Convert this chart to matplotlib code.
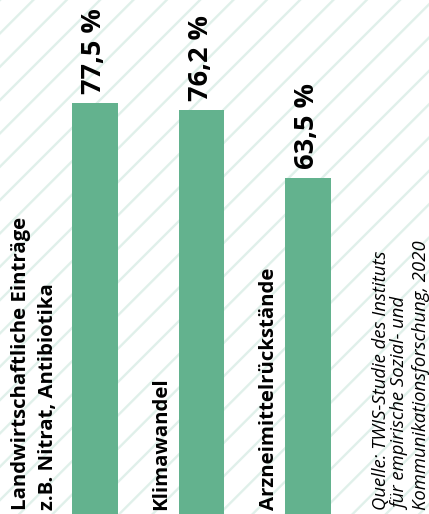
import matplotlib
matplotlib.use("Agg")
import matplotlib.pyplot as plt
import matplotlib.transforms as mtransforms
from matplotlib.patches import Rectangle

# data
categories = ["Landwirtschaftliche Einträge\nz.B. Nitrat, Antibiotika",
              "Klimawandel",
              "Arzneimittelrückstände"]
values = [77.5, 76.2, 63.5]
value_labels = ["77,5 %", "76,2 %", "63,5 %"]
source = ("Quelle: TWIS-Studie des Instituts\n"
          "für empirische Sozial- und\n"
          "Kommunikationsforschung, 2020")

bar_color = "#63b28e"
hatch_color = "#e0f0ea"
font = ["Open Sans", "DejaVu Sans"]

plt.rcParams["hatch.linewidth"] = 1.7

fig = plt.figure(figsize=(4.29, 5.14), dpi=100)
ax = fig.add_axes([0, 0, 1, 1])

# hatched background
bg = Rectangle((0, 0), 1, 1, transform=ax.transAxes, facecolor="white",
               edgecolor=hatch_color, hatch="/", linewidth=0, zorder=0)
ax.add_patch(bg)

x = list(range(len(values)))
width = 0.43
ax.bar(x, values, width=width, color=bar_color, zorder=2)

ax.set_xlim(-0.892, 3.136)
ax.set_ylim(0, 97)
ax.axis("off")

# value labels above bars
for i, (v, lab) in enumerate(zip(values, value_labels)):
    tr = mtransforms.offset_copy(ax.transData, fig=fig, x=6, y=9, units="dots")
    ax.text(i, v, lab, transform=tr, rotation=90, rotation_mode="anchor",
            ha="left", va="baseline", fontsize=19.5, fontweight="bold",
            family=font, color="black", zorder=3)

# category labels left of bars
label_pad = [26, 12, 11]
for i, (cat, pad) in enumerate(zip(categories, label_pad)):
    tr = mtransforms.offset_copy(ax.transData, fig=fig, x=-pad, y=4, units="dots")
    ax.text(i - width / 2, 0, cat, transform=tr, rotation=90, rotation_mode="anchor",
            ha="left", va="baseline", fontsize=14.7, fontweight="bold",
            family=font, color="black", linespacing=1.45, multialignment="left",
            zorder=3)

# source note
ax.text(0.868, 0.008, source, transform=ax.transAxes, rotation=90,
        rotation_mode="anchor", ha="left", va="top", fontsize=13.3,
        style="italic", family=font, color="black", linespacing=1.13,
        multialignment="left", zorder=3)

fig.savefig("out.png", dpi=100)
